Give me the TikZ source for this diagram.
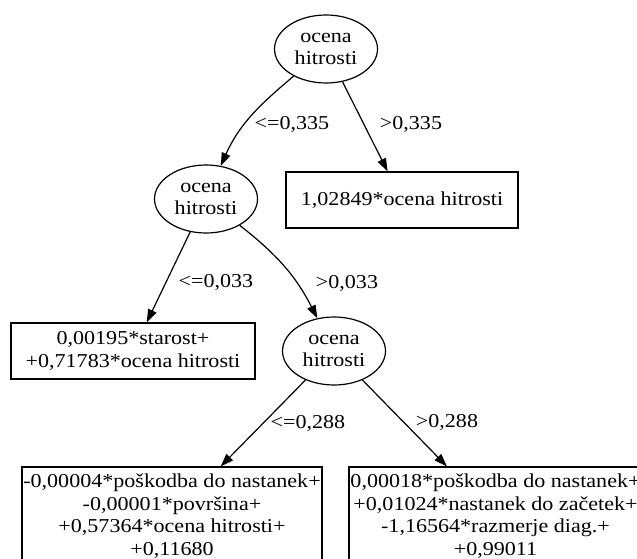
\documentclass[tikz,border=0pt]{standalone}
\usepackage{fontspec}
\setmainfont{Liberation Serif}[FakeStretch=1.12]
\usetikzlibrary{arrows.meta,shapes.geometric}
\begin{document}
\begin{tikzpicture}[x=1pt,y=1pt,
  every node/.style={font=\fontsize{19.7}{22.5}\selectfont, inner sep=0pt},
  split/.style={draw, ellipse, line width=1.2pt, minimum width=103pt, minimum height=68pt, align=center},
  leaf/.style={draw, rectangle, line width=1.2pt, align=center},
  arr/.style={line width=1.2pt, -{Triangle[length=13pt,width=9pt]}},
  lab/.style={}]
\useasboundingbox (0,0) rectangle (637,-559);
\clip (0,0) rectangle (637,-559);
\node[split] (root) at (326,-49) {ocena\\hitrosti};
\node[split] (second) at (206,-199) {ocena\\hitrosti};
\node[split] (third) at (334,-351) {ocena\\hitrosti};
\node[leaf, minimum width=232pt, minimum height=56pt] (rbox) at (402,-200) {1,02849*ocena hitrosti};
\node[leaf, minimum width=244pt, minimum height=56pt] (lbox) at (133,-351) {0,00195*starost+\\+0,71783*ocena hitrosti};
\node[leaf, minimum width=300pt, minimum height=98pt] (blbox) at (172,-516) {-0,00004*poškodba do nastanek+\\-0,00001*površina+\\+0,57364*ocena hitrosti+\\+0,11680};
\node[leaf, minimum width=293pt, minimum height=98pt] (brbox) at (495.5,-516) {0,00018*poškodba do nastanek+\\+0,01024*nastanek do začetek+\\-1,16564*razmerje diag.+\\+0,99011};
\node[lab] (l1) at (292,-124) {<=0,335};
\node[lab] (l2) at (411,-124) {>0,335};
\node[lab] (l3) at (216,-282) {<=0,033};
\node[lab] (l4) at (347,-283) {>0,033};
\node[lab] (l5) at (308,-423) {<=0,288};
\node[lab] (l6) at (447,-422) {>0,288};
\draw[arr] (root) to[out=-140,in=66] (second);
\draw[arr] (root) -- (rbox);
\draw[arr] (second) -- (lbox);
\draw[arr] (second) to[out=-38,in=117] (third);
\draw[arr] (third) -- (blbox);
\draw[arr] (third) -- (brbox);
\end{tikzpicture}
\end{document}
